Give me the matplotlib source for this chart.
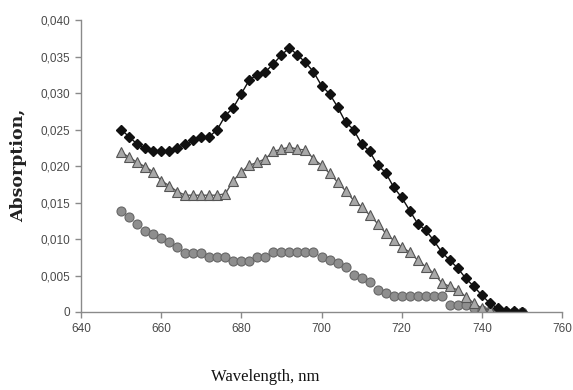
import numpy as np
import matplotlib
matplotlib.use("Agg")
import matplotlib.pyplot as plt

# wavelength grid, nm (every 2 nm)
wavelength = list(range(650, 752, 2))

diamond = [0.0250, 0.0240, 0.0230, 0.0224, 0.0220, 0.0220, 0.0220, 0.0225, 0.0230, 0.0235,
           0.0240, 0.0240, 0.0250, 0.0269, 0.0280, 0.0299, 0.0318, 0.0325, 0.0329, 0.0340,
           0.0352, 0.0362, 0.0352, 0.0342, 0.0329, 0.0310, 0.0299, 0.0281, 0.0260, 0.0250,
           0.0230, 0.0220, 0.0201, 0.0191, 0.0171, 0.0157, 0.0139, 0.0121, 0.0112, 0.0098,
           0.0082, 0.0071, 0.0060, 0.0046, 0.0035, 0.0023, 0.0012, 0.0005, 0.0002, 0.0001,
           0.0000]

triangle = [0.0219, 0.0212, 0.0205, 0.0199, 0.0192, 0.0180, 0.0173, 0.0165, 0.0160, 0.0160,
            0.0160, 0.0160, 0.0160, 0.0162, 0.0180, 0.0192, 0.0201, 0.0205, 0.0210, 0.0220,
            0.0223, 0.0226, 0.0223, 0.0222, 0.0210, 0.0201, 0.0190, 0.0178, 0.0166, 0.0153,
            0.0144, 0.0133, 0.0121, 0.0108, 0.0098, 0.0089, 0.0082, 0.0071, 0.0062, 0.0053,
            0.0040, 0.0035, 0.0030, 0.0021, 0.0012, 0.0005, 0.0003, 0.0002, 0.0001, 0.0000,
            0.0000]

circle = [0.0139, 0.0130, 0.0120, 0.0111, 0.0107, 0.0101, 0.0096, 0.0089, 0.0081, 0.0081,
          0.0081, 0.0075, 0.0075, 0.0075, 0.0070, 0.0070, 0.0070, 0.0075, 0.0075, 0.0082,
          0.0082, 0.0082, 0.0082, 0.0082, 0.0082, 0.0075, 0.0071, 0.0067, 0.0061, 0.0051,
          0.0046, 0.0041, 0.0030, 0.0026, 0.0022, 0.0022, 0.0022, 0.0022, 0.0022, 0.0022,
          0.0022, 0.0010, 0.0010, 0.0010, 0.0005, 0.0003, 0.0002, 0.0001, 0.0000, 0.0000,
          0.0000]

xticks = [640, 660, 680, 700, 720, 740, 760]
yticks = [0, 0.005, 0.010, 0.015, 0.020, 0.025, 0.030, 0.035, 0.040]
ylabels = ["0", "0,005", "0,010", "0,015", "0,020", "0,025", "0,030", "0,035", "0,040"]

fig = plt.figure(figsize=(5.73, 3.90), dpi=100)
ax = fig.add_axes([0.1414, 0.20, 0.8394, 0.7487])

ax.plot(wavelength, circle, linestyle="none", marker="o", markersize=6.5,
        markerfacecolor="#8e8e8e", markeredgecolor="#666666", markeredgewidth=0.8)
ax.plot(wavelength, triangle, color="#555555", linewidth=1, marker="^", markersize=6.5,
        markerfacecolor="#a8a8a8", markeredgecolor="#555555", markeredgewidth=0.8)
ax.plot(wavelength, diamond, color="#111111", linewidth=1, marker="D", markersize=5,
        markerfacecolor="#111111", markeredgecolor="#111111")

ax.set_xlim(640, 760)
ax.set_ylim(0, 0.040)
ax.set_xticks(xticks)
ax.set_yticks(yticks)
ax.set_yticklabels(ylabels)

for side in ["top", "right"]:
    ax.spines[side].set_visible(False)
for side in ["left", "bottom"]:
    ax.spines[side].set_color("#8a8a8a")
    ax.spines[side].set_linewidth(1.0)
ax.tick_params(axis="both", colors="#8a8a8a", labelcolor="#4a4a4a",
               labelsize=8.5, length=4, width=1, direction="out")
ax.tick_params(axis="x", pad=4)
for lab in ax.get_xticklabels() + ax.get_yticklabels():
    lab.set_family("Liberation Sans")

fig.text(0.032, 0.577, "Absorption,", rotation=90, ha="center", va="center",
         family="DejaVu Serif", fontweight="bold", fontsize=12.5, color="#222222")
fig.text(0.4625, 0.033, "Wavelength, nm", ha="center", va="center",
         family="Liberation Serif", fontsize=12, color="#111111")

fig.savefig("out.png", dpi=100)
